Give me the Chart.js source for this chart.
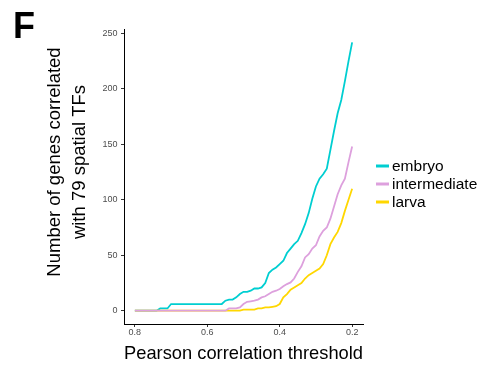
<!DOCTYPE html>
<html>
<head>
<meta charset="utf-8">
<script src="https://cdn.jsdelivr.net/npm/chart.js@4.4.1/dist/chart.umd.min.js"></script>
<style>
  html, body { margin: 0; padding: 0; background: #fff; }
  #wrap { width: 490px; height: 370px; }
</style>
</head>
<body>
<div id="wrap"><canvas id="chart" width="490" height="370"></canvas></div>
<script>
// Seuils de corrélation de Pearson (0.80 -> 0.20)
const thresholds = [0.80, 0.79, 0.78, 0.77, 0.76, 0.75, 0.74, 0.73, 0.72, 0.71,
    0.70, 0.69, 0.68, 0.67, 0.66, 0.65, 0.64, 0.63, 0.62, 0.61,
    0.60, 0.59, 0.58, 0.57, 0.56, 0.55, 0.54, 0.53, 0.52, 0.51,
    0.50, 0.49, 0.48, 0.47, 0.46, 0.45, 0.44, 0.43, 0.42, 0.41,
    0.40, 0.39, 0.38, 0.37, 0.36, 0.35, 0.34, 0.33, 0.32, 0.31,
    0.30, 0.29, 0.28, 0.27, 0.26, 0.25, 0.24, 0.23, 0.22, 0.21, 0.20];

// Nombre de gènes corrélés pour chaque stade
const embryo = [0, 0, 0, 0, 0, 0, 0, 2, 2, 2,
    6, 6, 6, 6, 6, 6, 6, 6, 6, 6,
    6, 6, 6, 6, 6, 9, 10, 10, 12, 15,
    17, 17, 18, 20, 20, 21, 25, 34, 37, 39,
    42, 45, 52, 56, 60, 63, 70, 78, 88, 101,
    112, 119, 123, 128, 145, 162, 178, 190, 207, 225, 242];

const intermediate = [0, 0, 0, 0, 0, 0, 0, 0, 0, 0,
    0, 0, 0, 0, 0, 0, 0, 0, 0, 0,
    0, 0, 0, 0, 0, 0, 2, 2, 2, 3,
    6, 8, 8.5, 9, 10, 12, 13, 15, 17, 18,
    19.5, 22, 24, 25.5, 29, 35, 40, 48, 51, 56,
    59, 67, 72, 75, 83, 94, 105, 113, 119, 134, 148];

const larva = [0, 0, 0, 0, 0, 0, 0, 0, 0, 0,
    0, 0, 0, 0, 0, 0, 0, 0, 0, 0,
    0, 0, 0, 0, 0, 0, 0, 0, 0, 0,
    1, 1, 1, 1, 2, 2, 3, 3, 3.5, 4,
    6, 12, 15, 19, 21, 23, 25, 29, 32, 34,
    36, 38, 42, 50, 60, 66, 71, 79, 90, 100, 110];

const seriesNames = ["embryo", "intermediate", "larva"];
const seriesColors = ["#00CED1", "#DDA0DD", "#FFD700"];

// Graduations des axes
const xTicks = [0.8, 0.6, 0.4, 0.2];
const yTicks = [0, 50, 100, 150, 200, 250];
const yTitle = ["Number of genes correlated", "with 79 spatial TFs"];

const FONT = "'Liberation Sans', Arial, Helvetica, sans-serif";

const toPoints = (values) => values.map((v, i) => ({ x: thresholds[i], y: v }));

// Légende, titre vertical et lettre du panneau dessinés à la main
const extras = {
    id: "extras",
    afterDraw(chart) {
        const ctx = chart.ctx;
        ctx.save();
        ctx.fillStyle = "#000";
        ctx.font = "bold 36px " + FONT;
        ctx.textBaseline = "alphabetic";
        ctx.textAlign = "left";
        ctx.fillText("F", 13, 38);

        // titre de l'axe y sur deux lignes
        ctx.save();
        ctx.translate(0, 162);
        ctx.rotate(-Math.PI / 2);
        ctx.font = "18.5px " + FONT;
        ctx.textAlign = "center";
        ctx.textBaseline = "middle";
        ctx.fillText(yTitle[0], 0, 55);
        ctx.fillText(yTitle[1], 0, 80);
        ctx.restore();

        ctx.font = "15.5px " + FONT;
        ctx.textBaseline = "middle";
        ctx.textAlign = "left";
        const rows = [166, 184, 202];
        seriesNames.forEach((name, i) => {
            ctx.strokeStyle = seriesColors[i];
            ctx.lineWidth = 3;
            ctx.beginPath();
            ctx.moveTo(376, rows[i]);
            ctx.lineTo(389, rows[i]);
            ctx.stroke();
            ctx.fillStyle = "#000";
            ctx.fillText(name, 392, rows[i] + 0.5);
        });
        ctx.restore();
    }
};

const ctx = document.getElementById("chart").getContext("2d");
const chart = new Chart(ctx, {
    type: "line",
    data: {
        datasets: [
            { label: seriesNames[0], data: toPoints(embryo), borderColor: seriesColors[0], order: 2 },
            { label: seriesNames[1], data: toPoints(intermediate), borderColor: seriesColors[1], order: 0 },
            { label: seriesNames[2], data: toPoints(larva), borderColor: seriesColors[2], order: 1 }
        ]
    },
    options: {
        responsive: false,
        animation: false,
        devicePixelRatio: 1,
        layout: { padding: { top: 29, right: 127, bottom: 0, left: 0 } },
        elements: {
            line: { borderWidth: 1.8, tension: 0, fill: false },
            point: { radius: 0 }
        },
        plugins: {
            legend: { display: false },
            tooltip: { enabled: false }
        },
        scales: {
            x: {
                type: "linear",
                reverse: true,
                min: 0.17,
                max: 0.83,
                afterBuildTicks: (scale) => { scale.ticks = xTicks.map((v) => ({ value: v })); },
                afterFit: (scale) => { scale.height = 46; },
                ticks: {
                    callback: (v) => Number(v).toFixed(1),
                    font: { family: FONT, size: 9 },
                    color: "#4d4d4d",
                    padding: 0,
                    maxRotation: 0
                },
                grid: { drawOnChartArea: false, tickLength: 3, tickColor: "#333", tickWidth: 1 },
                border: { display: true, color: "#000", width: 1 },
                title: {
                    display: true,
                    text: "Pearson correlation threshold",
                    font: { family: FONT, size: 18.5, lineHeight: 1.2 },
                    color: "#000",
                    padding: { top: 0, bottom: 5 }
                }
            },
            y: {
                type: "linear",
                min: -12,
                max: 254,
                afterBuildTicks: (scale) => { scale.ticks = yTicks.map((v) => ({ value: v })); },
                afterFit: (scale) => { scale.width = 124; },
                ticks: {
                    font: { family: FONT, size: 9 },
                    color: "#4d4d4d",
                    padding: 3.5
                },
                grid: { drawOnChartArea: false, tickLength: 3, tickColor: "#333", tickWidth: 1 },
                border: { display: true, color: "#000", width: 1 },
                title: { display: false }
            }
        }
    },
    plugins: [extras]
});
</script>
</body>
</html>
